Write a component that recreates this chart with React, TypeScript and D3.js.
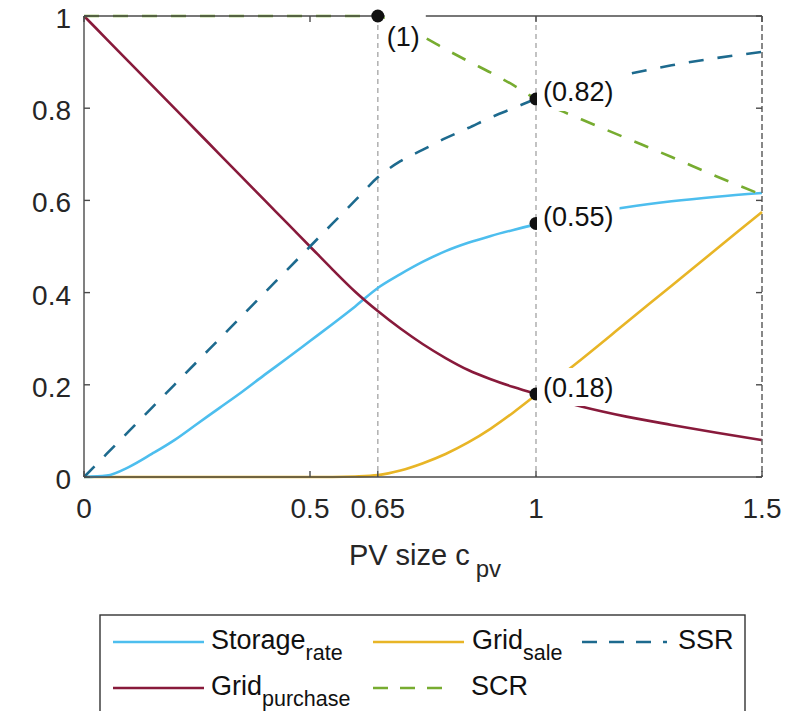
import React from "react";
import * as d3 from "d3";

const xGrid = [0, 0.05, 0.1, 0.15, 0.2, 0.25, 0.3, 0.35, 0.4, 0.45, 0.5, 0.55, 0.6, 0.65, 0.7, 0.75, 0.8, 0.85, 0.9, 0.95, 1.0, 1.1, 1.2, 1.3, 1.4, 1.5];
const storageRate = [0, 0.003, 0.022, 0.05, 0.08, 0.115, 0.15, 0.185, 0.222, 0.258, 0.295, 0.332, 0.37, 0.41, 0.44, 0.467, 0.49, 0.508, 0.523, 0.536, 0.548, 0.568, 0.585, 0.598, 0.608, 0.616];
const gridPurchase = [1, 0.95, 0.9, 0.85, 0.8, 0.75, 0.7, 0.65, 0.6, 0.55, 0.5, 0.45, 0.402, 0.36, 0.322, 0.288, 0.258, 0.232, 0.212, 0.195, 0.18, 0.153, 0.131, 0.113, 0.096, 0.08];
const gridSale = [0, 0, 0, 0, 0, 0, 0, 0, 0, 0, 0, 0, 0.001, 0.004, 0.014, 0.03, 0.05, 0.075, 0.105, 0.14, 0.178, 0.255, 0.335, 0.415, 0.495, 0.575];
const ssr = [0, 0.05, 0.1, 0.15, 0.2, 0.25, 0.3, 0.35, 0.4, 0.45, 0.5, 0.55, 0.6, 0.65, 0.685, 0.71, 0.735, 0.757, 0.78, 0.8, 0.82, 0.848, 0.873, 0.893, 0.909, 0.922];
const scr = [1, 1, 1, 1, 1, 1, 1, 1, 1, 1, 1, 1, 1, 1, 0.978, 0.955, 0.928, 0.902, 0.877, 0.85, 0.82, 0.776, 0.735, 0.694, 0.652, 0.612];

const xTicks = [0, 0.5, 0.65, 1, 1.5];
const xTickLabels = ["0", "0.5", "0.65", "1", "1.5"];
const yTicks = [0, 0.2, 0.4, 0.6, 0.8, 1];
const yTickLabels = ["0", "0.2", "0.4", "0.6", "0.8", "1"];
const guideXs = [0.65, 1];
const annX = [0.65, 1, 1, 1];
const annY = [1, 0.82, 0.55, 0.18];
const annLabels = ["(1)", "(0.82)", "(0.55)", "(0.18)"];

const FONT = "'Liberation Sans', Arial, Helvetica, sans-serif";
const C = {
  storage: "#4DBEEE",
  purchase: "#881A3B",
  sale: "#E8B526",
  ssr: "#1D6A8E",
  scr: "#77AC30",
};

export default function App() {
  const left = 84, right = 762, top = 16, bottom = 477;
  const x = d3.scaleLinear().domain([0, 1.5]).range([left, right]);
  const y = d3.scaleLinear().domain([0, 1]).range([bottom, top]);
  const line = (vals: number[]) =>
    d3.line<number>().x((_, i) => x(xGrid[i])).y((v) => y(v)).curve(d3.curveMonotoneX)(vals) || "";

  const series = [
    { vals: gridSale, color: C.sale, dash: undefined },
    { vals: storageRate, color: C.storage, dash: undefined },
    { vals: gridPurchase, color: C.purchase, dash: undefined },
    { vals: ssr, color: C.ssr, dash: "15,14" },
    { vals: scr, color: C.scr, dash: "15,14" },
  ];

  const labelFs = 27;
  const charW = (s: string) =>
    s.split("").reduce((a, c) => a + (c === "(" || c === ")" ? 0.333 : c === "." ? 0.278 : 0.556), 0) * labelFs;

  return (
    <svg width={791} height={711} style={{ position: "absolute", left: 0, top: 0, background: "#fff" }} fontFamily={FONT}>
      <rect x={0} y={0} width={791} height={711} fill="#fff" />
      {/* guide lines */}
      {guideXs.map((g, i) => (
        <line key={"g" + i} x1={x(g)} x2={x(g)} y1={top} y2={bottom} stroke="#b4b4b4" strokeWidth={1.6} strokeDasharray="5,4" />
      ))}
      {/* series */}
      {series.map((s, i) => (
        <path key={"s" + i} d={line(s.vals)} fill="none" stroke={s.color} strokeWidth={2.6} strokeDasharray={s.dash} />
      ))}
      {/* axes box */}
      <line x1={left} x2={right} y1={bottom} y2={bottom} stroke="#4a4a4a" strokeWidth={1.4} />
      <line x1={left} x2={left} y1={top} y2={bottom} stroke="#4a4a4a" strokeWidth={1.4} />
      <line x1={left} x2={right} y1={top} y2={top} stroke="#4a4a4a" strokeWidth={1.4} />
      <line x1={right} x2={right} y1={top} y2={bottom} stroke="#6a6a6a" strokeWidth={1.6} strokeDasharray="6,3" />
      {xTicks.map((t, i) => (
        <g key={"xt" + i}>
          <line x1={x(t)} x2={x(t)} y1={bottom} y2={bottom - 6} stroke="#4a4a4a" strokeWidth={1.4} />
          <line x1={x(t)} x2={x(t)} y1={top} y2={top + 6} stroke="#4a4a4a" strokeWidth={1.4} />
          <text x={x(t)} y={bottom + 41} fontSize={28} textAnchor="middle" fill="#262626">
            {xTickLabels[i]}
          </text>
        </g>
      ))}
      {yTicks.map((t, i) => (
        <g key={"yt" + i}>
          <line x1={left} x2={left + 6} y1={y(t)} y2={y(t)} stroke="#4a4a4a" strokeWidth={1.4} />
          <line x1={right} x2={right - 6} y1={y(t)} y2={y(t)} stroke="#4a4a4a" strokeWidth={1.4} />
          <text x={71} y={y(t) + 12} fontSize={28} textAnchor="end" fill="#262626">
            {yTickLabels[i]}
          </text>
        </g>
      ))}
      {/* markers */}
      {annX.map((a, i) => (
        <circle key={"m" + i} cx={x(a)} cy={y(annY[i])} r={6.5} fill="#111" />
      ))}
      {/* annotation labels */}
      {annX.map((a, i) => {
        const px = x(a), py = y(annY[i]);
        const w = charW(annLabels[i]);
        const below = annY[i] >= 1;
        const tx = below ? px + 9 : px + 7;
        const cy = below ? py + 20 : py - 7;
        const bx = below ? px + 7 : px + 1;
        const bw = tx - bx + w + 6;
        return (
          <g key={"a" + i}>
            <rect x={bx} y={below ? py - 3 : cy - 19} width={bw} height={below ? 42 : 38} fill="#fff" />
            <text x={tx} y={cy + 9.5} fontSize={labelFs} fill="#111">
              {annLabels[i]}
            </text>
          </g>
        );
      })}
      {/* x axis title */}
      <text x={(left + right) / 2 + 2} y={565} fontSize={29} textAnchor="middle" fill="#262626">
        PV size c
        <tspan dx={6} dy={12} fontSize={24}>pv</tspan>
      </text>
      {/* legend */}
      <rect x={100} y={615} width={645} height={130} fill="#fff" stroke="#333" strokeWidth={1.4} />
      <line x1={113} x2={204} y1={642} y2={642} stroke={C.storage} strokeWidth={2.6} />
      <text x={211} y={649} fontSize={27} fill="#111">
        Storage<tspan dy={11} fontSize={21.5}>rate</tspan>
      </text>
      <line x1={373} x2={464} y1={642} y2={642} stroke={C.sale} strokeWidth={2.6} />
      <text x={472} y={649} fontSize={27} fill="#111">
        Grid<tspan dy={11} fontSize={21.5}>sale</tspan>
      </text>
      <line x1={582} x2={667} y1={642} y2={642} stroke={C.ssr} strokeWidth={2.6} strokeDasharray="15,12" />
      <text x={678} y={649} fontSize={27} fill="#111">SSR</text>
      <line x1={113} x2={204} y1={688} y2={688} stroke={C.purchase} strokeWidth={2.6} />
      <text x={211} y={695} fontSize={27} fill="#111">
        Grid<tspan dy={11} fontSize={21.5}>purchase</tspan>
      </text>
      <line x1={373} x2={451} y1={688} y2={688} stroke={C.scr} strokeWidth={2.6} strokeDasharray="15,12" />
      <text x={471} y={695} fontSize={27} fill="#111">SCR</text>
    </svg>
  );
}
